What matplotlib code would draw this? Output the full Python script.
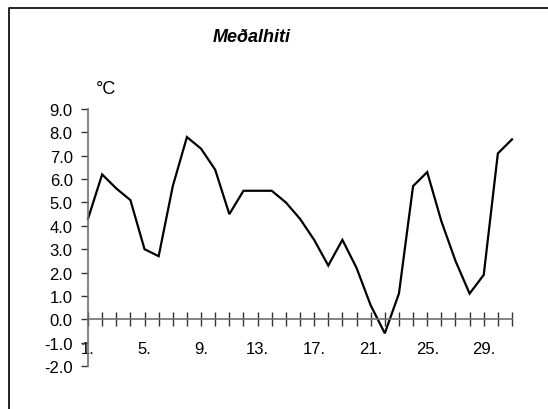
import matplotlib
matplotlib.use("Agg")
import matplotlib.pyplot as plt
from matplotlib.lines import Line2D
from matplotlib.ticker import FormatStrFormatter

plt.rcParams['font.family'] = ['Liberation Sans', 'DejaVu Sans']

# daily mean temperature
days  = list(range(1, 32))
temps = [4.3, 6.2, 5.6, 5.1, 3.0, 2.7, 5.7, 7.8, 7.3, 6.4,
         4.5, 5.5, 5.5, 5.5, 5.0, 4.3, 3.4, 2.3, 3.4, 2.2,
         0.6, -0.6, 1.1, 5.7, 6.3, 4.2, 2.5, 1.1, 1.9, 7.1, 7.7]
label_days = [1, 5, 9, 13, 17, 21, 25, 29]
y_ticks    = [-2, -1, 0, 1, 2, 3, 4, 5, 6, 7, 8, 9]

W, H = 548, 410
fig = plt.figure(figsize=(W / 100, H / 100), dpi=100)

# axes placed so day 1..31 spans x 89..512 px and -2..9 spans y 367..110 px
x0, x1 = 88, 512
y_top, y_bot = 110, 367
ax = fig.add_axes([x0 / W, (H - y_bot) / H, (x1 - x0) / W, (y_bot - y_top) / H])
ax.patch.set_visible(False)

ax.plot(days, temps, color='black', lw=1.6, solid_joinstyle='miter', clip_on=False)

ax.set_xlim(1, 31)
ax.set_ylim(-2, 9)

for s in ['top', 'right']:
    ax.spines[s].set_visible(False)
ax.spines['bottom'].set_position(('data', 0))
ax.spines['bottom'].set_color('#707070')
ax.spines['left'].set_color('#707070')
ax.spines['bottom'].set_linewidth(1.2)
ax.spines['left'].set_linewidth(1.2)

ax.set_xticks(label_days)
ax.set_xticklabels([f"{d}." for d in label_days])
ax.set_xticks(days, minor=True)
ax.tick_params(axis='x', which='both', direction='inout', length=10, width=1,
               color='#333333')
ax.tick_params(axis='x', which='major', pad=10.5, labelsize=12)

ax.set_yticks(y_ticks)
ax.yaxis.set_major_formatter(FormatStrFormatter('%.1f'))
ax.tick_params(axis='y', direction='out', length=5, width=1, color='#333333',
               pad=6, labelsize=12)

fig.text(252 / W, 1 - 38 / H, "Meðalhiti", ha='center', va='center',
         fontsize=13, fontweight='bold', fontstyle='italic')
fig.text(96 / W, 1 - 90 / H, "°C", ha='left', va='center', fontsize=13)

# outer frame (left and top edges visible)
fig.add_artist(Line2D([9 / W, 9 / W, 1.0], [0.0, 1 - 9 / H, 1 - 9 / H],
                      transform=fig.transFigure, color='black', lw=1.2))

fig.savefig("out.png", dpi=100)
